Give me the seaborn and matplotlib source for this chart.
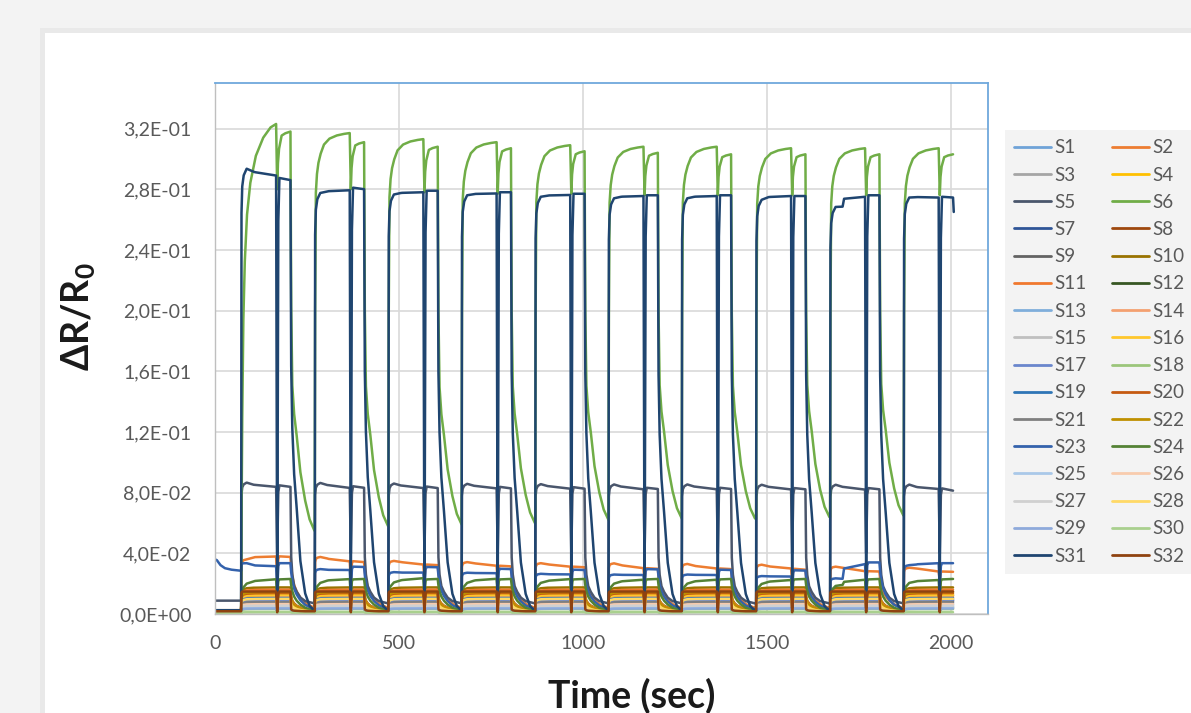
import matplotlib
matplotlib.use("Agg")
import matplotlib.pyplot as plt
import seaborn as sns
import pandas as pd
from matplotlib.lines import Line2D
from matplotlib.patches import Rectangle
from matplotlib.ticker import FuncFormatter

# ---------------- data ----------------
SERIES = [f"S{i}" for i in range(1, 33)]
COLORS = ["#6FA3D8", "#ED7D31", "#A5A5A5", "#FFC000", "#4A566C", "#70AD47",
          "#2F5597", "#9E480E", "#636363", "#997300", "#F0782E", "#375623",
          "#7FAEDB", "#F4A070", "#BFBFBF", "#FFC72C", "#6A86CC", "#9BC57A",
          "#2E75B6", "#C55A11", "#7F7F7F", "#BF9000", "#3462AC", "#548235",
          "#A9C8E8", "#F8CBAD", "#D0D0D0", "#FFD966", "#8EAADB", "#A9D08E",
          "#1F4570", "#8F4210"]

CYCLE_START = [71, 271, 471, 670, 870, 1069, 1268, 1470, 1671, 1871]

# time offsets within one exposure cycle (sec)
RISE_T = [0, 1, 3, 7]
PLAT_T = [15, 34, 38, 95]
DIP_T = 98
SHORT_T = [101, 104, 134]
DECAY_T = [0, 2, 5, 10, 17, 27, 40, 52, 65]

# read-off shapes (fraction of step)
RISE_FAST = [0.0, 0.90, 0.96, 0.985]
RISE_SLOW = [0.0, 0.70, 0.80, 0.88]
DECAY_NAVY = [1.0, 0.568, 0.424, 0.317, 0.237, 0.115, 0.040, 0.011, 0.0]
DECAY_MED = [1.0, 0.80, 0.62, 0.45, 0.32, 0.20, 0.10, 0.05, 0.0]
DECAY_CLUSTER = [1.0, 0.60, 0.42, 0.30, 0.20, 0.12, 0.06, 0.03, 0.0]
DECAY_SQUARE = [1.0, 0.10, 0.05, 0.03, 0.02, 0.01, 0.0, 0.0, 0.0]
DECAY_S5 = [1.0, 0.40, 0.25, 0.15, 0.10, 0.05, 0.02, 0.01, 0.0]

# S6 (green, largest response)
S6_RISE_T = [0, 1, 3, 6, 10, 16, 25, 40, 60, 80, 95]
S6_RISE_FIRST = [0.0, 0.18, 0.40, 0.60, 0.72, 0.815, 0.88, 0.935, 0.972, 0.993, 1.0]
S6_RISE = [0.0, 0.55, 0.85, 0.897, 0.925, 0.948, 0.971, 0.986, 0.994, 0.998, 1.0]
S6_SHORT_T = [98, 100, 103, 110, 120, 134]
S6_SHORT = [0.0, 0.45, 0.70, 0.93, 0.97, 1.0]
S6_DECAY = [1.0, 0.561, 0.364, 0.292, 0.237, 0.146, 0.075, 0.028, 0.0]
S6_BASE = [0.0, 0.055, 0.058, 0.059, 0.060, 0.062, 0.063, 0.063, 0.064, 0.065]
S6_PEAK1 = [0.323, 0.317, 0.313, 0.311, 0.309, 0.308, 0.308, 0.307, 0.307, 0.307]
S6_DIP = [0.280, 0.280, 0.278, 0.277, 0.277, 0.276, 0.276, 0.276, 0.276, 0.276]
S6_PEAK2 = [0.318, 0.311, 0.308, 0.307, 0.305, 0.304, 0.303, 0.303, 0.303, 0.303]

# S31 (navy)
S31_PRE = 0.0025
S31_PLAT = [[0.2935, 0.2915, 0.2912, 0.2890], [0.2775, 0.2785, 0.2787, 0.2793],
            [0.2765, 0.2775, 0.2776, 0.2780], [0.2760, 0.2768, 0.2769, 0.2772],
            [0.2750, 0.2758, 0.2759, 0.2762], [0.2740, 0.2750, 0.2751, 0.2755],
            [0.2740, 0.2750, 0.2751, 0.2755], [0.2730, 0.2748, 0.2749, 0.2755],
            [0.2683, 0.2685, 0.2737, 0.2750], [0.2745, 0.2748, 0.2748, 0.2745]]
S31_SHORT = [[0.2874, 0.2860], [0.2810, 0.2800], [0.2790, 0.2790], [0.2780, 0.2780],
             [0.2770, 0.2770], [0.2760, 0.2760], [0.2760, 0.2760], [0.2755, 0.2755],
             [0.2760, 0.2760], [0.2750, 0.2745]]
S31_DIP = 0.004
S31_BASE = 0.0022
S31_END = (2007, 0.265)

# S23 (blue, ~0.03)
S23_PRE_T = [0, 5, 15, 27, 45, 70]
S23_PRE_V = [0.0360, 0.0355, 0.0322, 0.0302, 0.0292, 0.0285]
S23_PLAT = [[0.0335, 0.0322, 0.0320, 0.0315], [0.0296, 0.0292, 0.0291, 0.0290],
            [0.0276, 0.0274, 0.0273, 0.0273], [0.0272, 0.0270, 0.0270, 0.0269],
            [0.0265, 0.0262, 0.0262, 0.0261], [0.0260, 0.0258, 0.0258, 0.0257],
            [0.0260, 0.0258, 0.0258, 0.0257], [0.0250, 0.0248, 0.0248, 0.0247],
            [0.0235, 0.0232, 0.0300, 0.0329], [0.0322, 0.0326, 0.0328, 0.0335]]
S23_SHORT = [[0.0335, 0.0335], [0.0312, 0.0310], [0.0310, 0.0308], [0.0298, 0.0296],
             [0.0292, 0.0290], [0.0296, 0.0294], [0.0292, 0.0290], [0.0288, 0.0286],
             [0.0340, 0.0340], [0.0335, 0.0335]]
S23_DIP = 0.015
S23_BASE = 0.003

# S2 (orange, ~0.035)
S2_PRE = 0.0015
S2_PLAT = [[0.0360, 0.0372, 0.0375, 0.0379], [0.0376, 0.0366, 0.0363, 0.0347],
           [0.0350, 0.0343, 0.0341, 0.0326], [0.0342, 0.0335, 0.0333, 0.0318],
           [0.0335, 0.0328, 0.0326, 0.0312], [0.0334, 0.0322, 0.0320, 0.0302],
           [0.0330, 0.0318, 0.0316, 0.0300], [0.0325, 0.0315, 0.0313, 0.0300],
           [0.0312, 0.0305, 0.0304, 0.0282], [0.0305, 0.0300, 0.0299, 0.0280]]
S2_SHORT = [[0.0380, 0.0376], [0.0348, 0.0342], [0.0326, 0.0322], [0.0318, 0.0314],
            [0.0312, 0.0308], [0.0302, 0.0298], [0.0300, 0.0296], [0.0298, 0.0292],
            [0.0282, 0.0280], [0.0280, 0.0278]]
S2_DIP = 0.022
S2_BASE = 0.004

# S5 (slate, ~0.085)
S5_PRE = 0.0088
S5_PLAT = [[0.0866, 0.0852, 0.0851, 0.0838], [0.0864, 0.0850, 0.0849, 0.0831],
           [0.0860, 0.0847, 0.0846, 0.0830], [0.0858, 0.0845, 0.0844, 0.0828],
           [0.0856, 0.0843, 0.0842, 0.0826], [0.0854, 0.0840, 0.0839, 0.0822],
           [0.0854, 0.0840, 0.0839, 0.0822], [0.0852, 0.0838, 0.0837, 0.0821],
           [0.0852, 0.0838, 0.0837, 0.0820], [0.0853, 0.0838, 0.0836, 0.0824]]
S5_SHORT = [[0.0848, 0.0838], [0.0842, 0.0832], [0.0840, 0.0830], [0.0838, 0.0828],
            [0.0836, 0.0826], [0.0832, 0.0824], [0.0832, 0.0824], [0.0830, 0.0822],
            [0.0830, 0.0822], [0.0828, 0.0813]]
S5_DIP = 0.040
S5_BASE = 0.007

# S24 (dark green, ~0.022)
S24_PRE = 0.0012
S24_PLAT = [[0.0200, 0.0215, 0.0218, 0.0229], [0.0205, 0.0220, 0.0222, 0.0230],
            [0.0208, 0.0222, 0.0224, 0.0236], [0.0205, 0.0220, 0.0222, 0.0232],
            [0.0205, 0.0218, 0.0220, 0.0230], [0.0200, 0.0214, 0.0216, 0.0226],
            [0.0200, 0.0214, 0.0216, 0.0226], [0.0198, 0.0212, 0.0214, 0.0224],
            [0.0185, 0.0192, 0.0212, 0.0226], [0.0205, 0.0215, 0.0217, 0.0224]]
S24_SHORT = [0.0228, 0.0231]
S24_DIP = 0.012
S24_BASE = 0.002

# S32 (brown square pulses)
S32_PRE = 0.0018
S32_LEVEL = 0.0148
S32_DIP = 0.0012
S32_BASE = 0.0018

# remaining sensors: plateau level and baseline between exposures
CLUSTER = ["S1", "S3", "S4", "S7", "S8", "S9", "S10", "S11", "S12", "S13", "S14",
           "S15", "S16", "S17", "S18", "S19", "S20", "S21", "S22", "S25", "S26",
           "S27", "S28", "S29", "S30"]
CLUSTER_LEVEL = [0.0060, 0.0095, 0.0130, 0.0088, 0.0120, 0.0080, 0.0175, 0.0160,
                 0.0040, 0.0050, 0.0110, 0.0070, 0.0125, 0.0092, 0.0032, 0.0105,
                 0.0138, 0.0078, 0.0145, 0.0045, 0.0065, 0.0055, 0.0100, 0.0036,
                 0.0012]
CLUSTER_FLOOR = [0.0012, 0.0016, 0.0020, 0.0015, 0.0018, 0.0014, 0.0025, 0.0024,
                 0.0010, 0.0011, 0.0017, 0.0013, 0.0019, 0.0016, 0.0008, 0.0017,
                 0.0021, 0.0014, 0.0022, 0.0010, 0.0013, 0.0012, 0.0016, 0.0009,
                 0.0005]
CLUSTER_PLAT = [0.97, 0.99, 0.99, 1.0]
CLUSTER_DIP = 0.45

# ---------------- build the traces ----------------
def cycle_pts(k, base, rise_f, plat, dip, short, end, decay_f, last):
    s = CYCLE_START[k]
    pts = [(s + o, base + f * (plat[0] - base)) for o, f in zip(RISE_T, rise_f)]
    pts += [(s + o, v) for o, v in zip(PLAT_T, plat)]
    pts.append((s + DIP_T, dip))
    pts.append((s + SHORT_T[0], dip + 0.9 * (short[0] - dip)))
    pts.append((s + SHORT_T[1], short[0]))
    pts.append((s + SHORT_T[2], short[1]))
    if not last:
        pts += [(s + SHORT_T[2] + o, end + f * (short[1] - end))
                for o, f in zip(DECAY_T[1:], decay_f[1:])]
    return pts


def trace(pre_pts, plats, shorts, dip, base, rise_f, decay_f):
    pts = list(pre_pts)
    n = len(CYCLE_START)
    prev = pre_pts[-1][1]
    for k in range(n):
        pts += cycle_pts(k, prev, rise_f, plats[k], dip, shorts[k], base,
                         decay_f, k == n - 1)
        prev = base
    return pts


data = {}
# S6
pts = []
for k, s in enumerate(CYCLE_START):
    b, p1, d, p2 = S6_BASE[k], S6_PEAK1[k], S6_DIP[k], S6_PEAK2[k]
    if k == 0:
        pts.append((0, 0.0))
    shape = S6_RISE_FIRST if k == 0 else S6_RISE
    pts += [(s + o, b + f * (p1 - b)) for o, f in zip(S6_RISE_T, shape)]
    pts += [(s + o, d + f * (p2 - d)) for o, f in zip(S6_SHORT_T, S6_SHORT)]
    if k < len(CYCLE_START) - 1:
        nb = S6_BASE[k + 1]
        pts += [(s + 134 + o, nb + f * (p2 - nb)) for o, f in zip(DECAY_T[1:], S6_DECAY[1:])]
data["S6"] = pts

data["S31"] = trace([(0, S31_PRE)], S31_PLAT, S31_SHORT, S31_DIP, S31_BASE,
                    RISE_FAST, DECAY_NAVY) + [S31_END]
data["S23"] = trace(list(zip(S23_PRE_T, S23_PRE_V)), S23_PLAT, S23_SHORT, S23_DIP,
                    S23_BASE, RISE_FAST, DECAY_MED)
data["S2"] = trace([(0, S2_PRE)], S2_PLAT, S2_SHORT, S2_DIP, S2_BASE, RISE_FAST, DECAY_MED)
data["S5"] = trace([(0, S5_PRE)], S5_PLAT, S5_SHORT, S5_DIP, S5_BASE, RISE_FAST, DECAY_S5)
data["S24"] = trace([(0, S24_PRE)], S24_PLAT, [S24_SHORT] * 10, S24_DIP, S24_BASE,
                    RISE_SLOW, DECAY_MED)
data["S32"] = trace([(0, S32_PRE)], [[S32_LEVEL] * 4] * 10, [[S32_LEVEL] * 2] * 10,
                    S32_DIP, S32_BASE, [0.0, 0.95, 1.0, 1.0], DECAY_SQUARE)
for name, lv, fl in zip(CLUSTER, CLUSTER_LEVEL, CLUSTER_FLOOR):
    plats = [[lv * f for f in CLUSTER_PLAT]] * 10
    data[name] = trace([(0, fl)], plats, [[lv, lv]] * 10, lv * CLUSTER_DIP, fl,
                       [0.0, 0.75, 0.88, 0.95], DECAY_CLUSTER)

rows = []
for name in SERIES:
    for t, v in data[name]:
        rows.append((name, t, v))
df = pd.DataFrame(rows, columns=["series", "time", "value"])

# ---------------- drawing ----------------
sns.set_theme(style="white")
plt.rcParams["font.family"] = ["Lato", "DejaVu Sans"]
plt.rcParams["mathtext.fontset"] = "custom"
plt.rcParams["mathtext.rm"] = "Lato"
plt.rcParams["mathtext.bf"] = "Lato:bold"

W, H = 1191, 713
fig = plt.figure(figsize=(W / 100, H / 100), dpi=100)
fig.patch.set_facecolor("#F3F3F3")
fig.add_artist(Rectangle((40 / W, 0), 1, (H - 28) / H, transform=fig.transFigure,
                         facecolor="#E9E9E9", edgecolor="none", zorder=-2))
fig.add_artist(Rectangle((45 / W, 0), 1, (H - 33) / H, transform=fig.transFigure,
                         facecolor="white", edgecolor="none", zorder=-1))

ax = fig.add_axes([215 / W, (H - 614) / H, (988 - 215) / W, (614 - 83) / H])
ax.set_facecolor("white")
sns.lineplot(data=df, x="time", y="value", hue="series", hue_order=SERIES,
             palette=COLORS, estimator=None, sort=False, legend=False,
             linewidth=1.8, ax=ax)

ax.set_xlim(0, 2100)
ax.set_ylim(0, 0.35)
ax.set_xticks([0, 500, 1000, 1500, 2000])
ax.set_yticks([0.0, 0.04, 0.08, 0.12, 0.16, 0.20, 0.24, 0.28, 0.32])
ax.yaxis.set_major_formatter(FuncFormatter(lambda v, p: f"{v:.1E}".replace(".", ",")))
ax.tick_params(axis="both", length=0, labelsize=14, labelcolor="#595959")
ax.tick_params(axis="x", pad=15)
ax.tick_params(axis="y", pad=17)
ax.grid(True, color="#D9D9D9", linewidth=1.2)
ax.set_axisbelow(True)
for side in ["top", "right"]:
    ax.spines[side].set_color("#6FA8DC")
    ax.spines[side].set_linewidth(1.3)
for side in ["left", "bottom"]:
    ax.spines[side].set_color("#BFBFBF")
    ax.spines[side].set_linewidth(1.0)

ax.set_xlabel("Time (sec)", fontsize=27, fontweight="bold", color="#1A1A1A")
ax.set_ylabel(r"ΔR/R$_\mathbf{0}$", fontsize=27, fontweight="bold", color="#1A1A1A")
ax.xaxis.set_label_coords(0.539, -0.12)
ax.yaxis.set_label_coords(-0.152, 0.56)

order = SERIES[0::2] + SERIES[1::2]
handles = [Line2D([0], [0], color=COLORS[SERIES.index(n)], lw=2) for n in order]
leg = fig.legend(handles, order, loc="upper left",
                 bbox_to_anchor=(1005 / W, (H - 130) / H), ncol=2, fontsize=13.5,
                 frameon=True, fancybox=False, labelspacing=0.545, handlelength=1.95,
                 handletextpad=0.2, columnspacing=1.35, borderpad=0.5,
                 borderaxespad=0)
leg.get_frame().set_facecolor("#F0F0F0")
leg.get_frame().set_edgecolor("none")
for txt in leg.get_texts():
    txt.set_color("#595959")

fig.savefig("out.png", dpi=100)
